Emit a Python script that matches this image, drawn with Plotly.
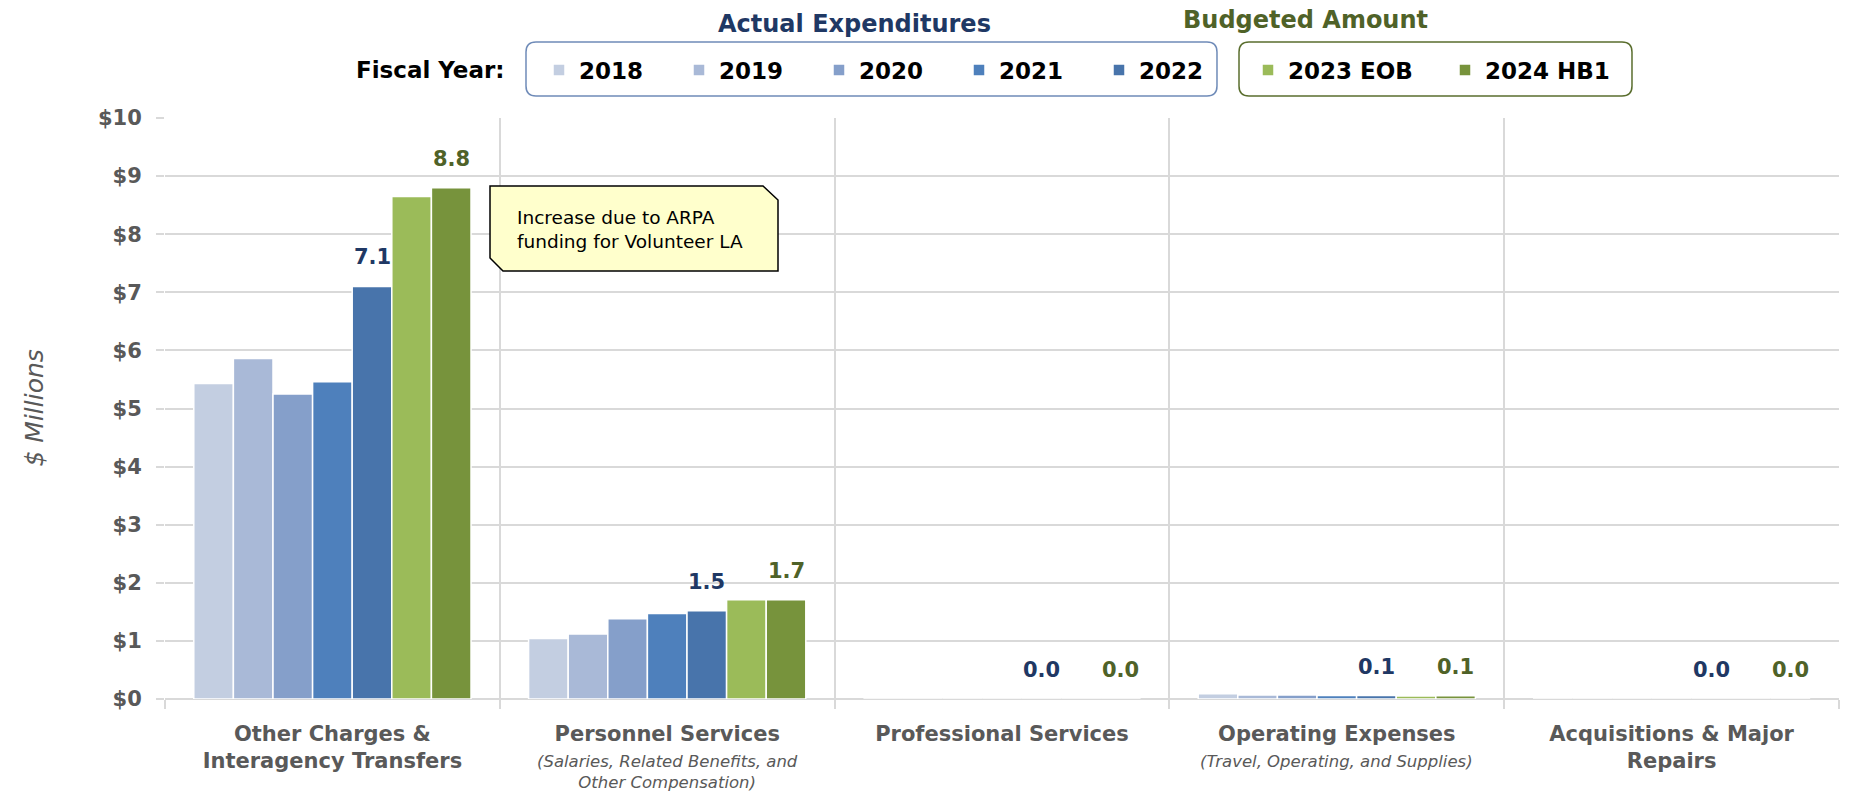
import plotly.graph_objects as go

# ---------------- data ----------------
categories = [
    "Other Charges &<br>Interagency Transfers",
    "Personnel Services",
    "Professional Services",
    "Operating Expenses",
    "Acquisitions & Major<br>Repairs",
]
subtitles = [
    "",
    "(Salaries, Related Benefits, and<br>Other Compensation)",
    "",
    "(Travel, Operating, and Supplies)",
    "",
]
series_names = ["2018", "2019", "2020", "2021", "2022", "2023 EOB", "2024 HB1"]
fy2018 = [5.43, 1.04, 0.0, 0.09, 0.0]
fy2019 = [5.86, 1.12, 0.0, 0.07, 0.0]
fy2020 = [5.25, 1.38, 0.0, 0.07, 0.0]
fy2021 = [5.46, 1.47, 0.0, 0.06, 0.0]
fy2022 = [7.10, 1.52, 0.0, 0.06, 0.0]
fy2023 = [8.65, 1.71, 0.0, 0.05, 0.0]
fy2024 = [8.80, 1.71, 0.0, 0.055, 0.0]
series_values = [fy2018, fy2019, fy2020, fy2021, fy2022, fy2023, fy2024]
labeled_series = [4, 6]  # 2022 and 2024 HB1 carry value labels
annotation_text = "Increase due to ARPA<br>funding for Volunteer LA"

# ---------------- styling ----------------
colors = ["#C3CEE1", "#A9B9D7", "#859FCA", "#4E80BC", "#4874AB", "#9BBB59", "#77933C"]
label_colors = {4: "#1F3864", 6: "#4F6228"}
legend_of = ["legend", "legend", "legend", "legend", "legend", "legend2", "legend2"]
FONT = "DejaVu Sans"
GRAY = "#595959"
GRID = "#D9D9D9"

OFF = 8  # page body margin
W, H = 1857, 794
L, R, T, B = 165, 18, 118, 95          # in page pixels
PW, PH = W - L - R, H - T - B
BARGAP = 0.172


def px_x(x):
    return (x - L) / PW


def px_y(y):
    return (H - B - y) / PH


fig = go.Figure()
for i, (name, vals) in enumerate(zip(series_names, series_values)):
    fig.add_trace(go.Bar(
        name=name, x=categories, y=vals,
        marker=dict(color=colors[i], line=dict(color="white", width=1.5)),
        legend=legend_of[i], hoverinfo="skip",
    ))

# value labels above the 2022 and 2024 bars
n = len(series_names)
bw = (1 - BARGAP) / n
for si in labeled_series:
    off = -(1 - BARGAP) / 2 + bw * (si + 0.5)
    for ci, v in enumerate(series_values[si]):
        fig.add_annotation(
            x=ci + off, y=v, xref="x", yref="y", text=f"{v:.1f}",
            showarrow=False, yshift=29, yanchor="middle",
            font=dict(family=FONT, size=21, color=label_colors[si], weight="bold"),
        )

# subtitles under category labels
for ci, sub in enumerate(subtitles):
    if sub:
        fig.add_annotation(
            x=ci, xref="x", y=px_y(772 if "<br>" in sub else 761), yref="paper",
            text=sub, showarrow=False, yanchor="middle",
            font=dict(family=FONT, size=16.5, color=GRAY, style="italic"),
        )


def rrect(x0, y0, x1, y1, r):
    def P(x, y):
        return f"{px_x(x):.5f},{px_y(y):.5f}"
    return (f"M {P(x0 + r, y0)} L {P(x1 - r, y0)} Q {P(x1, y0)} {P(x1, y0 + r)} "
            f"L {P(x1, y1 - r)} Q {P(x1, y1)} {P(x1 - r, y1)} "
            f"L {P(x0 + r, y1)} Q {P(x0, y1)} {P(x0, y1 - r)} "
            f"L {P(x0, y0 + r)} Q {P(x0, y0)} {P(x0 + r, y0)} Z")


fig.add_shape(type="path", xref="paper", yref="paper", path=rrect(526, 42, 1217, 96, 10),
              line=dict(color="#6F8BB8", width=1.5), fillcolor="rgba(0,0,0,0)")
fig.add_shape(type="path", xref="paper", yref="paper", path=rrect(1239, 42, 1632, 96, 10),
              line=dict(color="#5A6E2E", width=1.5), fillcolor="rgba(0,0,0,0)")

# callout box
cpts = [(490, 186), (763, 186), (778, 200), (778, 271), (503, 271), (490, 258)]
cpath = "M " + " L ".join(f"{px_x(x):.5f},{px_y(y):.5f}" for x, y in cpts) + " Z"
fig.add_shape(type="path", xref="paper", yref="paper", path=cpath,
              line=dict(color="black", width=1.5), fillcolor="#FFFFCC")
fig.add_annotation(x=px_x(515), y=px_y(230), xref="paper", yref="paper", xanchor="left",
                   yanchor="middle", align="left", showarrow=False, text=annotation_text,
                   font=dict(family=FONT, size=18.5, color="black"))

# headers
fig.add_annotation(x=px_x(854), y=px_y(24), xref="paper", yref="paper", showarrow=False,
                   text="Actual Expenditures", yanchor="middle",
                   font=dict(family=FONT, size=24, color="#1F3864", weight="bold"))
fig.add_annotation(x=px_x(1430), y=px_y(20), xref="paper", yref="paper", showarrow=False,
                   text="Budgeted Amount", yanchor="middle",
                   font=dict(family=FONT, size=24, color="#4F6228", weight="bold"))
fig.add_annotation(x=px_x(507), y=px_y(70), xref="paper", yref="paper", showarrow=False,
                   text="Fiscal Year:", xanchor="right", yanchor="middle",
                   font=dict(family=FONT, size=23, color="black", weight="bold"))
# y-axis title
fig.add_annotation(x=px_x(34), y=0.5, xref="paper", yref="paper", showarrow=False,
                   text="$ Millions", textangle=-90, xanchor="center", yanchor="middle",
                   font=dict(family=FONT, size=25, color=GRAY, style="italic"))

legend_common = dict(
    orientation="h", xanchor="left", yanchor="middle", entrywidthmode="pixels",
    font=dict(family=FONT, size=23, color="black", weight="bold"),
    bgcolor="rgba(0,0,0,0)", borderwidth=0, traceorder="normal",
)

fig.update_layout(
    width=W - OFF, height=H - OFF,
    margin=dict(l=L - OFF, r=R, t=T - OFF, b=B, autoexpand=False),
    paper_bgcolor="white", plot_bgcolor="white",
    barmode="group", bargap=BARGAP, bargroupgap=0,
    showlegend=True,
    legend=dict(x=px_x(539), y=px_y(70), entrywidth=95, **legend_common),
    legend2=dict(x=px_x(1248), y=px_y(70), entrywidth=152, **legend_common),
    xaxis=dict(
        type="category", range=[-0.5, len(categories) - 0.5],
        tickson="boundaries", ticks="outside", ticklen=9, tickcolor=GRID, tickwidth=2,
        showgrid=True, gridcolor=GRID, gridwidth=2,
        tickfont=dict(family=FONT, size=21, color=GRAY, weight="bold"),
        ticklabelstandoff=20, showline=False, zeroline=False,
    ),
    yaxis=dict(
        range=[0, 10], dtick=1, tickprefix="$",
        ticks="outside", ticklen=8, tickcolor=GRID, tickwidth=2,
        showgrid=True, gridcolor=GRID, gridwidth=2,
        zeroline=True, zerolinecolor=GRID, zerolinewidth=2,
        tickfont=dict(family=FONT, size=21, color=GRAY, weight="bold"),
        ticklabelstandoff=10, showline=False,
    ),
)

fig.write_html("out.html")
